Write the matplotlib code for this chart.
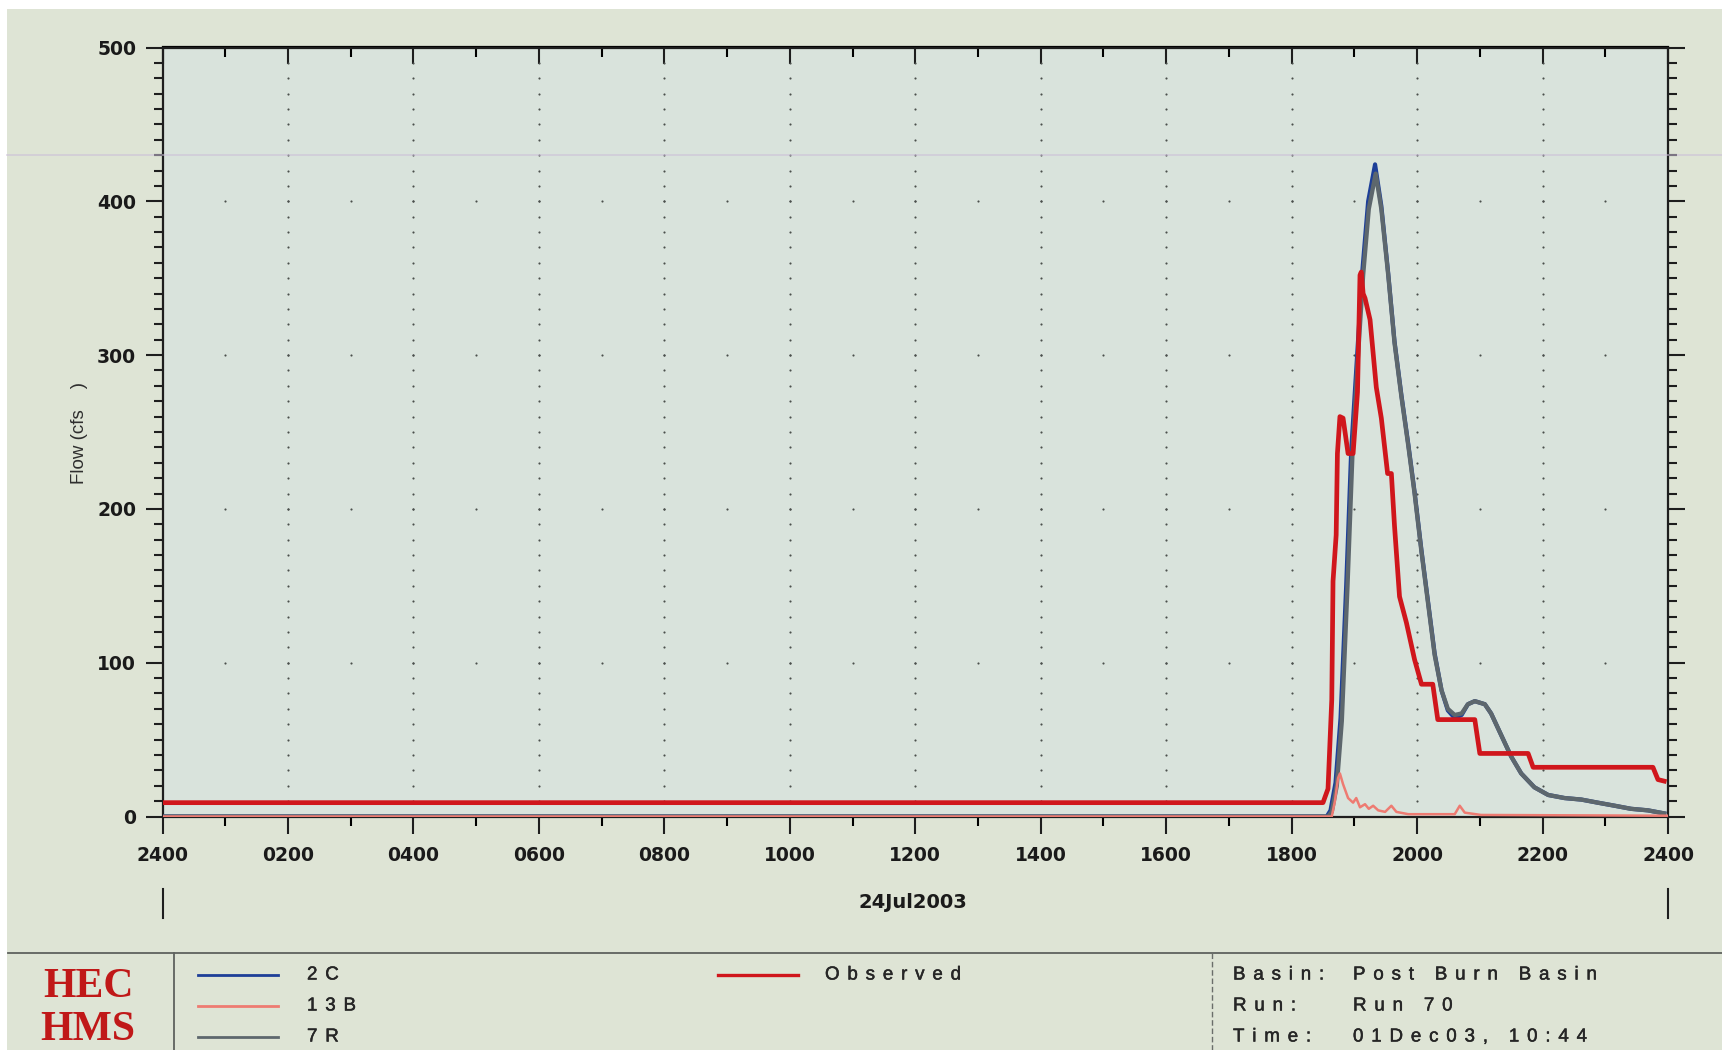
import matplotlib
matplotlib.use("Agg")
import matplotlib.pyplot as plt
import matplotlib.patheffects as pe
import numpy as np
from matplotlib.patches import Rectangle
from matplotlib.lines import Line2D

# ---- data: hours after 2400 on 23Jul2003, flow in cfs ----
obs_hours = [0, 18.50, 18.58, 18.64, 18.66, 18.71, 18.73, 18.77, 18.82, 18.90, 18.98,
             19.05, 19.09, 19.11, 19.14, 19.17, 19.25, 19.35, 19.43, 19.53, 19.59,
             19.64, 19.72, 19.83, 19.96, 20.07, 20.25, 20.33, 20.92, 21.00, 21.77,
             21.85, 23.76, 23.84, 23.94]
obs_flow = [9, 9, 18, 76, 153, 183, 236, 260, 259, 236, 236,
            276, 352, 354, 340, 337, 323, 279, 259, 223, 223,
            189, 143, 126, 102, 86, 86, 63, 63, 41, 41,
            32, 32, 24, 23]

r7_hours = [0, 18.58, 18.64, 18.72, 18.80, 18.89, 18.97, 19.05, 19.14, 19.23, 19.34,
            19.43, 19.54, 19.64, 19.75, 19.86, 19.96, 20.07, 20.18, 20.28, 20.39,
            20.49, 20.60, 20.71, 20.81, 20.92, 21.08, 21.18, 21.34, 21.50, 21.66,
            21.87, 22.09, 22.35, 22.62, 22.88, 23.15, 23.41, 23.68, 23.94]
r7_flow = [0, 0, 3, 20, 62, 149, 236, 294, 352, 395, 418,
           395, 352, 308, 273, 241, 210, 172, 137, 105, 82,
           70, 66, 67, 73, 75, 73, 67, 53, 39, 28,
           19, 14, 12, 11, 9, 7, 5, 4, 2]

c2_hours = [0, 18.56, 18.62, 18.70, 18.78, 18.87, 18.95, 19.04, 19.13, 19.22, 19.33,
            19.43, 19.54, 19.64, 19.75, 19.86, 19.96, 20.07, 20.18, 20.28, 20.39,
            20.49, 20.60, 20.71, 20.81, 20.92, 21.08, 21.18, 21.34, 21.50, 21.66,
            21.87, 22.09, 22.35, 22.62, 22.88, 23.15, 23.41, 23.68, 23.94]
c2_flow = [0, 0, 4, 22, 64, 150, 238, 297, 356, 400, 424,
           397, 353, 309, 274, 242, 211, 173, 138, 106, 82,
           69, 64, 66, 73, 75, 73, 67, 53, 39, 28,
           19, 14, 12, 11, 9, 7, 5, 4, 2]

b13_hours = [0, 18.64, 18.69, 18.74, 18.77, 18.82, 18.90, 18.98, 19.03, 19.09, 19.17,
             19.23, 19.30, 19.38, 19.49, 19.59, 19.67, 19.86, 20.60, 20.68, 20.76,
             21.02, 24.0]
b13_flow = [0, 0, 10, 25, 28, 21, 12, 9, 12, 6, 8,
            5, 7, 4, 3, 7, 3, 1.5, 1.5, 7, 2.5,
            1, 0.5]

x_major = list(range(0, 25, 2))
x_labels = ["2400", "0200", "0400", "0600", "0800", "1000", "1200",
            "1400", "1600", "1800", "2000", "2200", "2400"]
y_major = [0, 100, 200, 300, 400, 500]

series_names = ["2C", "13B", "7R"]
obs_name = "Observed"
info_keys = ["Basin:", "Run:", "Time:"]
info_vals = ["Post Burn Basin", "Run 70", "01Dec03, 10:44"]
date_label = "24Jul2003"

# ---- styling ----
W, H = 1722, 1050
PAGE = "#dee4d5"
PLOT = "#d9e3dc"
C_BLUE = "#1d3f98"
C_PINK = "#ee7b72"
C_GRAY = "#5d676d"
C_RED = "#d0161c"
SANS = ["Liberation Sans", "DejaVu Sans"]
INK = "#262626"
HEAVY = [pe.withStroke(linewidth=0.35, foreground=INK)]


def fx(px):
    return px / W


def fy(py):
    return 1 - py / H


def tracked(s):
    # widen letter spacing the way the HEC-HMS plot footer does
    return "\u2004\u200a".join(s)


fig = plt.figure(figsize=(W / 100, H / 100), dpi=100, facecolor="white")
fig.patches.append(Rectangle((fx(7), 0), 1 - fx(7), fy(9), transform=fig.transFigure,
                             facecolor=PAGE, edgecolor="none", zorder=-5))

ax = fig.add_axes([fx(162.5), fy(816.5), fx(1668) - fx(162.5), fy(47.5) - fy(816.5)])
ax.set_facecolor(PLOT)
ax.set_xlim(0, 24)
ax.set_ylim(0, 500)

# dotted grid: dots at minor-tick spacing along each major line
for xv in x_major[1:-1]:
    yy = np.arange(10, 500, 10)
    ax.scatter(np.full_like(yy, xv, dtype=float), yy, s=2.4, color="#4a4f4c",
               linewidths=0, zorder=1)
for yv in y_major[1:-1]:
    xx = np.arange(1, 24, 1)
    ax.scatter(xx, np.full_like(xx, yv, dtype=float), s=2.4, color="#4a4f4c",
               linewidths=0, zorder=1)

ax.plot(c2_hours, c2_flow, color=C_BLUE, lw=3.0, zorder=3, solid_joinstyle="round")
ax.plot(r7_hours, r7_flow, color=C_GRAY, lw=3.1, zorder=4, solid_joinstyle="round")
ax.plot(obs_hours, obs_flow, color=C_RED, lw=3.4, zorder=5, solid_joinstyle="round")
ax.plot(b13_hours, b13_flow, color=C_PINK, lw=1.8, zorder=6, solid_joinstyle="round")

for sp in ax.spines.values():
    sp.set_linewidth(1.6)
    sp.set_color("#1e1e1e")

ax.set_xticks(x_major)
ax.set_xticklabels(x_labels)
ax.set_xticks(range(0, 25), minor=True)
ax.set_yticks(y_major)
ax.set_yticks(range(0, 501, 10), minor=True)
ax.tick_params(axis="x", which="major", direction="out", length=12.5, width=1.5,
               pad=9, labelsize=13.5, colors="#1e1e1e")
ax.tick_params(axis="x", which="minor", direction="out", length=6.5, width=1.5)
ax.tick_params(axis="y", which="both", left=True, right=True, direction="out", width=1.5,
               colors="#1e1e1e")
ax.tick_params(axis="y", which="major", length=12, pad=7, labelsize=13.5)
ax.tick_params(axis="y", which="minor", length=6.5)
for lab in ax.get_xticklabels() + ax.get_yticklabels():
    lab.set_fontweight("bold")
    lab.set_family("DejaVu Sans")
    lab.set_color("#1a1a1a")

top = ax.secondary_xaxis("top")
top.set_xticks(x_major)
top.set_xticks(range(0, 25), minor=True)
top.tick_params(axis="x", which="major", direction="in", length=12.5, width=1.5,
                labeltop=False, colors="#1e1e1e")
top.tick_params(axis="x", which="minor", direction="in", length=7, width=1.5)
top.set_xticklabels([])
top.spines["top"].set_linewidth(1.6)

fig.text(fx(80), fy(433), "Flow (cfs    )", rotation=90, ha="center", va="center",
         fontsize=13.5, family=SANS, color="#2e2e2e")

# date label and day boundary marks
fig.text(fx(913), fy(902), date_label, ha="center", va="center", fontsize=14,
         fontweight="bold", family="DejaVu Sans", color="#1a1a1a")
for hx in (0, 24):
    xpix = fx(162.5 + (1668 - 162.5) * hx / 24)
    fig.add_artist(Line2D([xpix, xpix], [fy(889), fy(918)], transform=fig.transFigure,
                          color="#1e1e1e", lw=1.5))

# faint scanner streak across the page
fig.add_artist(Line2D([fx(7), 1], [fy(155), fy(155)], transform=fig.transFigure,
                      color="#cbbfd8", lw=1.3, alpha=0.6, zorder=10))

# ---- footer ----
fig.add_artist(Line2D([fx(8), 1], [fy(953), fy(953)], transform=fig.transFigure,
                      color="#5e625e", lw=1.3))
fig.add_artist(Line2D([fx(174), fx(174)], [fy(953), 0], transform=fig.transFigure,
                      color="#5e625e", lw=1.3))
fig.add_artist(Line2D([fx(1212), fx(1212)], [fy(953), 0], transform=fig.transFigure,
                      color="#6a6e6a", lw=1.0, ls=(0, (4, 2))))

fig.text(fx(88), fy(987), "HEC", ha="center", va="center", fontsize=30,
         fontweight="bold", family="Liberation Serif", color="#c01818")
fig.text(fx(88), fy(1030), "HMS", ha="center", va="center", fontsize=30,
         fontweight="bold", family="Liberation Serif", color="#c01818")

row_y = [975, 1006, 1037]
leg_colors = [C_BLUE, C_PINK, C_GRAY]
for name, col, ry in zip(series_names, leg_colors, row_y):
    fig.add_artist(Line2D([fx(198), fx(278)], [fy(ry), fy(ry)], transform=fig.transFigure,
                          color=col, lw=2.0))
    fig.text(fx(307), fy(ry), tracked(name), ha="left", va="center", fontsize=13.5,
             family=SANS, color=INK, path_effects=HEAVY)

fig.add_artist(Line2D([fx(718), fx(798)], [fy(975), fy(975)], transform=fig.transFigure,
                      color=C_RED, lw=2.4))
fig.text(fx(825), fy(975), tracked(obs_name), ha="left", va="center", fontsize=13.5,
         family=SANS, color=INK, path_effects=HEAVY)

for k, v, ry in zip(info_keys, info_vals, row_y):
    fig.text(fx(1233), fy(ry), tracked(k), ha="left", va="center", fontsize=13.5,
             family=SANS, color=INK, path_effects=HEAVY)
    fig.text(fx(1353), fy(ry), tracked(v), ha="left", va="center", fontsize=13.5,
             family=SANS, color=INK, path_effects=HEAVY)

fig.savefig("out.png", dpi=100, facecolor="white")
